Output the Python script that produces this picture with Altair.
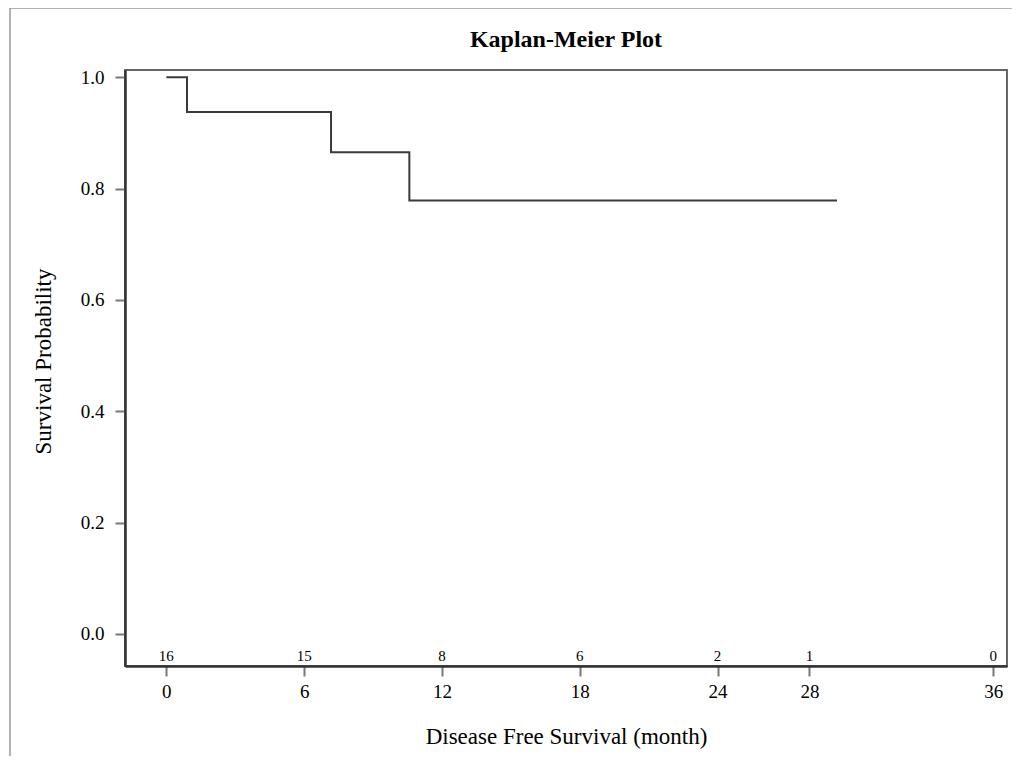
import altair as alt
import pandas as pd

# Kaplan-Meier step values
km_time = [0.0, 0.9, 7.17, 10.58, 29.2]
km_surv = [1.0, 0.9375, 0.8654, 0.7788, 0.7788]

# Numbers at risk
risk_time = [0, 6, 12, 18, 24, 28, 36]
risk_n = [16, 15, 8, 6, 2, 1, 0]

x_ticks = [0, 6, 12, 18, 24, 28, 36]
y_ticks = [0.0, 0.2, 0.4, 0.6, 0.8, 1.0]

title_text = ["Kaplan-Meier Plot"]

km = pd.DataFrame({"time": km_time, "surv": km_surv})
risk = pd.DataFrame({"time": risk_time, "n": risk_n})

FONT = "Liberation Serif"
W, H = 882, 596

xscale = alt.Scale(domain=[-1.8, 36.6], nice=False, zero=False)
yscale = alt.Scale(domain=[-0.0575, 1.013], nice=False, zero=False)

line = alt.Chart(km).mark_line(
    interpolate="step-after", color="#3a3a3a", strokeWidth=2
).encode(
    x=alt.X("time:Q", scale=xscale,
            axis=alt.Axis(values=x_ticks, title="Disease Free Survival (month)",
                          grid=False, tickSize=10, tickWidth=2, tickColor="#777777",
                          domainColor="#333333", domainWidth=2.5,
                          labelFont=FONT, labelFontSize=19, labelColor="#000000",
                          labelPadding=6, titleFont=FONT, titleFontSize=23,
                          titleFontWeight="normal", titleColor="#000000",
                          titleBaseline="middle", titleY=70)),
    y=alt.Y("surv:Q", scale=yscale,
            axis=alt.Axis(values=y_ticks, format=".1f", title="Survival Probability",
                          grid=False, tickSize=10, tickWidth=2, tickColor="#777777",
                          domainColor="#333333", domainWidth=2.5,
                          labelFont=FONT, labelFontSize=19, labelColor="#000000",
                          labelPadding=11, titleFont=FONT, titleFontSize=23,
                          titleFontWeight="normal", titleColor="#000000",
                          titleAngle=270, titleBaseline="middle", titleAlign="center",
                          titleX=-82, titleY=291)),
)

risk_text = alt.Chart(risk).mark_text(
    font=FONT, fontSize=15, color="#000000", baseline="middle", align="center"
).encode(
    x=alt.X("time:Q", scale=xscale),
    y=alt.value(585.5),
    text=alt.Text("n:Q"),
)

title = alt.Chart(pd.DataFrame({"t": title_text})).mark_text(
    font=FONT, fontSize=24, fontWeight="bold", color="#000000",
    baseline="alphabetic", align="center"
).encode(
    x=alt.value(W / 2), y=alt.value(-23), text="t:N"
)

border = pd.DataFrame({"k": [0]})
border_left = alt.Chart(border).mark_rule(color="#999999", strokeWidth=1.5).encode(
    x=alt.value(-115), y=alt.value(-62), y2=alt.value(690)
)
border_top = alt.Chart(border).mark_rule(color="#999999", strokeWidth=1.5).encode(
    x=alt.value(-115), x2=alt.value(890), y=alt.value(-62)
)

chart = alt.layer(line, risk_text, title, border_left, border_top).properties(
    width=W,
    height=H,
    autosize=alt.AutoSizeParams(type="none"),
    padding={"left": 117, "top": 62, "right": 5, "bottom": 90},
).configure(
    background="#ffffff"
).configure_view(
    stroke="#666666", strokeWidth=2
)

chart.save("out.html", embed_options={"renderer": "svg", "actions": False})
